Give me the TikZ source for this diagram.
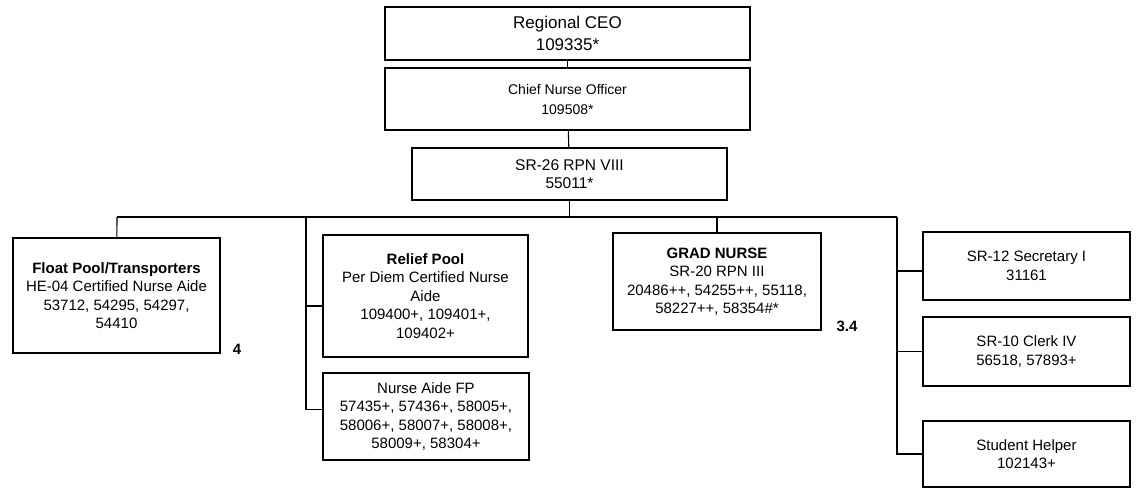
\documentclass[tikz,border=0pt]{standalone}
\usepackage{fontspec}
\setmainfont{Liberation Sans}
\usepackage{tikz}

\begin{document}
\begin{tikzpicture}[x=1pt, y=-1pt]
\tikzstyle{mybox} = [draw, line width = 1.5 pt, align = center, inner sep = 0 pt, font = \fontsize{15}{18.5}\selectfont]
\tikzstyle{mynote} = [inner sep = 0 pt, font = \fontsize{15}{18}\selectfont\bfseries]
\tikzset{every path/.append style={line width = 1.1 pt}}
\useasboundingbox (0,0) rectangle (1136,488);

\node [mybox, minimum width = 365 pt, minimum height = 53 pt, font = \fontsize{17}{22}\selectfont] (ceo) at (567.5,33.5) {Regional CEO\\109335*};
\node [mybox, minimum width = 365 pt, minimum height = 62 pt, font = \fontsize{14}{20}\selectfont] (cno) at (567.5,99) {Chief Nurse Officer\\109508*};
\node [mybox, minimum width = 315 pt, minimum height = 52 pt, font = \fontsize{15.5}{18}\selectfont] (rpn) at (569.5,174) {SR-26 RPN VIII\\55011*};

\node [mybox, minimum width = 207 pt, minimum height = 115 pt] (float) at (116.5,295.5) {\textbf{Float Pool/Transporters}\\HE-04 Certified Nurse Aide\\53712, 54295, 54297,\\54410};
\node [mybox, minimum width = 205 pt, minimum height = 122 pt] (relief) at (425.5,296) {\textbf{Relief Pool}\\Per Diem Certified Nurse\\Aide\\109400+, 109401+,\\109402+};
\node [mybox, minimum width = 206 pt, minimum height = 87 pt] (aide) at (426,416.5) {Nurse Aide FP\\57435+, 57436+, 58005+,\\58006+, 58007+, 58008+,\\58009+, 58304+};
\node [mybox, minimum width = 208 pt, minimum height = 97 pt] (grad) at (717,281.5) {\textbf{GRAD NURSE}\\SR-20 RPN III\\20486++, 54255++, 55118,\\58227++, 58354\#*};
\node [mybox, minimum width = 207 pt, minimum height = 68 pt] (secr) at (1026.5,266) {SR-12 Secretary I\\31161};
\node [mybox, minimum width = 207 pt, minimum height = 69 pt] (clerk) at (1026.5,351.5) {SR-10 Clerk IV\\56518, 57893+};
\node [mybox, minimum width = 207 pt, minimum height = 66 pt] (helper) at (1026.5,454) {Student Helper\\102143+};

\node [mynote] (n4) at (237,349) {4};
\node [mynote] (n34) at (847,326) {3.4};

\coordinate (busl) at (117,217);
\coordinate (busm) at (rpn.south |- busl);
\coordinate (busr) at (897,217);
\coordinate (busp) at (306,217);

\draw (ceo) -- (cno);
\draw (cno) -- (rpn);
\draw (rpn) -- (busm);
\draw (busl) -- (busr);
\draw (busl) -- (float);
\draw (busp) |- ([yshift=7pt]aide.west);
\draw (busp |- relief.west) ++(0,10) -- ([yshift=-10pt]relief.west);
\draw (grad.north |- busl) -- (grad);
\draw (busr) |- (helper.west);
\draw (busr |- secr.west) ++(0,5) -- ([yshift=-5pt]secr.west);
\draw (busr |- clerk.west) -- (clerk.west);

\end{tikzpicture}
\end{document}
